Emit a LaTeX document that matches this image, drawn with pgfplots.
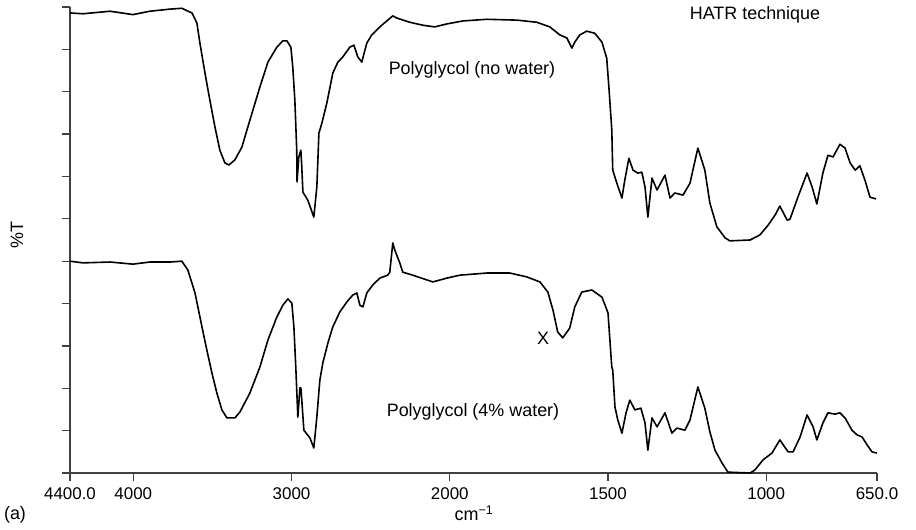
\documentclass[border=0pt]{standalone}
\usepackage{fontspec}
\setmainfont{Liberation Sans}
\usepackage{pgfplots}
\pgfplotsset{compat=1.18}

% Polyglycol (no water)
\pgfplotstableread{
w     t
4400 108.6
4318 108.4
4147 109.0
4002 108.2
3895 109.0
3768 109.5
3693 109.7
3642 108.8
3629 108.6
3598 106.2
3579 101.5
3547 94.4
3516 88.0
3484 81.7
3453 76.2
3421 73.2
3396 72.7
3358 73.9
3314 76.9
3263 83.3
3200 91.1
3149 97.0
3093 100.5
3055 102.0
3029 102.0
3004 100.5
2992 95.8
2979 88.0
2967 76.2
2965 68.7
2954 74.6
2941 76.2
2935 72.2
2928 66.3
2897 64.4
2859 60.4
2840 67.5
2827 80.2
2808 82.6
2777 87.3
2739 94.4
2707 97.0
2676 98.2
2632 100.5
2606 101.0
2581 98.2
2556 97.0
2524 101.5
2493 103.4
2442 105.3
2392 106.9
2360 107.9
2335 107.4
2253 106.4
2170 105.7
2095 105.3
2019 106.0
1959 106.7
1883 107.1
1788 106.9
1725 106.4
1684 105.3
1652 103.4
1630 102.7
1614 100.3
1605 101.7
1589 103.4
1567 104.3
1542 103.8
1519 101.7
1504 97.9
1497 90.9
1488 81.0
1485 71.5
1472 68.4
1456 64.9
1447 69.1
1434 74.3
1421 71.5
1406 70.8
1393 71.0
1383 67.5
1374 60.4
1361 69.6
1345 66.8
1320 70.3
1304 64.9
1289 66.1
1263 65.6
1241 68.4
1216 76.7
1194 71.5
1178 63.7
1156 58.1
1130 55.5
1115 54.8
1051 55.0
1020 56.2
994 58.5
972 60.9
957 63.0
934 59.7
925 59.9
900 65.1
871 70.8
855 67.5
840 63.5
821 70.8
805 75.0
789 74.6
767 77.6
751 76.7
735 73.2
719 71.5
704 72.5
688 69.1
672 65.1
653 64.7
}\nowater

% Polyglycol (4% water)
\pgfplotstableread{
w     t
4400 50.0
4318 49.6
4147 49.8
4002 49.3
3895 49.8
3768 49.8
3693 50.0
3655 47.9
3610 42.5
3566 34.5
3535 29.0
3503 23.6
3472 18.9
3440 14.9
3408 13.0
3358 13.0
3326 14.4
3263 18.9
3200 25.0
3149 31.4
3093 36.8
3055 39.6
3023 41.1
2998 40.1
2985 34.5
2973 25.0
2960 13.2
2947 20.1
2941 20.1
2935 17.2
2922 10.1
2884 8.3
2859 5.9
2840 13.2
2821 21.9
2802 26.0
2770 30.7
2739 34.5
2695 38.0
2650 40.4
2613 42.0
2587 42.5
2568 39.6
2549 39.2
2524 42.5
2486 44.4
2442 46.0
2392 46.7
2379 47.4
2360 54.3
2347 52.6
2316 49.6
2297 47.4
2234 46.7
2107 45.1
2019 46.0
1968 46.7
1883 47.2
1810 47.2
1757 46.3
1715 45.1
1690 42.7
1674 38.5
1659 33.3
1643 31.9
1621 34.2
1605 39.2
1583 42.7
1551 43.2
1519 41.5
1500 37.8
1488 25.0
1485 24.3
1478 15.6
1469 12.5
1456 9.4
1443 14.2
1431 17.2
1415 14.9
1396 15.3
1383 11.8
1374 5.4
1361 13.0
1345 10.9
1320 14.2
1298 9.4
1282 10.6
1257 10.1
1241 12.5
1216 20.3
1194 15.3
1178 9.7
1162 5.4
1140 2.4
1121 0.2
1051 0.0
1036 0.7
1010 3.1
982 4.7
957 7.8
931 5.0
915 5.0
893 8.5
871 13.7
852 10.9
840 7.8
821 11.8
805 14.2
783 13.9
767 14.2
751 13.0
729 10.1
713 9.0
697 8.5
681 6.6
666 5.0
650 4.7
}\water

\begin{document}
\fontsize{18}{21}\selectfont
\begin{tikzpicture}
\useasboundingbox (-70bp,-57bp) rectangle (846bp,473bp);
\begin{axis}[
  at={(0,0)}, anchor=south west,
  scale only axis, width=807bp, height=466bp,
  axis lines*=left,
  axis line style={black!75, line width=1.2bp},
  x coord trafo/.code={\pgfmathparse{(#1>2000)?(2000+0.5*(#1-2000)):(#1)}},
  x coord inv trafo/.code={\pgfmathparse{(#1>2000)?(2000+2*(#1-2000)):(#1)}},
  x dir=reverse,
  xmin=650, xmax=4400,
  ymin=0, ymax=110,
  xtick={650,1000,1500,2000,3000,4000,4400},
  xticklabels={650.0,1000,1500,2000,3000,4000,4400.0},
  ytick={0,10,...,110},
  yticklabels={},
  tick align=outside,
  major tick length=8bp,
  tick style={black!75, line width=1.2bp},
  tick label style={font=\fontsize{17}{20}\selectfont},
  clip=false,
]
\addplot[black, line width=1.6bp, line join=round] table[x=w, y=t] {\nowater};
\addplot[black, line width=1.6bp, line join=round] table[x=w, y=t] {\water};
\end{axis}
\node at (685bp,458bp) {HATR technique};
\node at (402bp,403bp) {Polyglycol (no water)};
\node at (403bp,61bp) {Polyglycol (4\% water)};
\node at (473bp,135bp) {X};
\node[rotate=90] at (-53bp,238bp) {\%T};
\node at (-55bp,-42bp) {(a)};
\node at (404bp,-40bp) {cm\textsuperscript{−1}};
\end{tikzpicture}
\end{document}
